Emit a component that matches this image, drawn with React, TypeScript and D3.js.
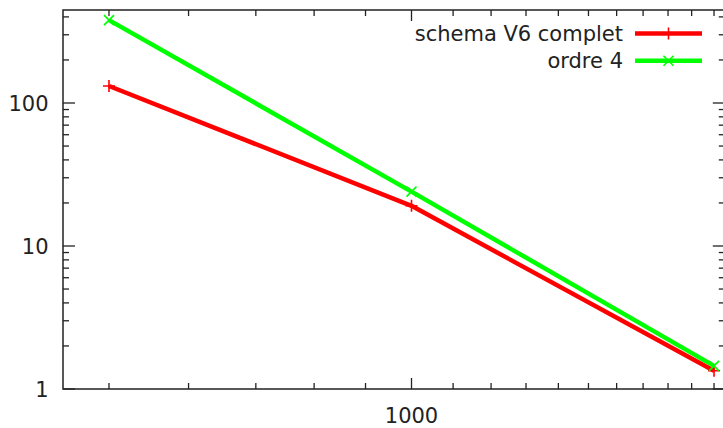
import React from "react";
import * as d3 from "d3";

const xValues = [500, 1000, 2000];
const seriesNames = ["schema V6 complet", "ordre 4"];
const redValues = [131.5, 19.1, 1.34];
const greenValues = [380, 24.0, 1.45];
const xTickLabels = [1000];
const yTickLabels = [1, 10, 100];

const W = 723;
const H = 428;
const left = 63;
const right = 724.8;
const top = 10;
const bottom = 389;

export default function App() {
  const x = d3.scaleLog().domain([450, 2050]).range([left, right]);
  const y = d3.scaleLog().domain([1, 447]).range([bottom, top]);

  const line = d3
    .line<number>()
    .x((_, i) => x(xValues[i]))
    .y((d) => y(d));

  const xMinor: number[] = [];
  for (let v = 500; v <= 2000; v += 100) if (v !== 1000) xMinor.push(v);
  const yMinor: number[] = [];
  [1, 10, 100].forEach((dec) => {
    for (let k = 2; k <= 9; k++) {
      const v = dec * k;
      if (v <= 447) yMinor.push(v);
    }
  });

  const axisColor = "#222";
  const font = "DejaVu Sans, sans-serif";
  const series = [
    { name: seriesNames[0], values: redValues, color: "#ff0000", marker: "plus" },
    { name: seriesNames[1], values: greenValues, color: "#00ff00", marker: "cross" },
  ];

  const marker = (type: string, cx: number, cy: number, color: string, key: string) => {
    const s = 6;
    if (type === "plus")
      return (
        <path key={key} d={`M${cx - s},${cy}H${cx + s}M${cx},${cy - s}V${cy + s}`} stroke={color} strokeWidth={1.6} fill="none" />
      );
    const t = 5;
    return (
      <path key={key} d={`M${cx - t},${cy - t}L${cx + t},${cy + t}M${cx - t},${cy + t}L${cx + t},${cy - t}`} stroke={color} strokeWidth={1.6} fill="none" />
    );
  };

  return (
    <svg width={W} height={H} style={{ position: "absolute", left: 0, top: 0 }} fontFamily={font}>
      <rect x={0} y={0} width={W} height={H} fill="#fff" />
      {/* ticks */}
      <g stroke={axisColor} strokeWidth={1.3}>
        {xMinor.map((v) => (
          <g key={"xm" + v}>
            <line x1={x(v)} x2={x(v)} y1={bottom} y2={bottom - 6} />
            <line x1={x(v)} x2={x(v)} y1={top} y2={top + 6} />
          </g>
        ))}
        {xTickLabels.map((v) => (
          <g key={"xM" + v}>
            <line x1={x(v)} x2={x(v)} y1={bottom} y2={bottom - 11} />
            <line x1={x(v)} x2={x(v)} y1={top} y2={top + 11} />
          </g>
        ))}
        {yMinor.map((v) => (
          <g key={"ym" + v}>
            <line x1={left} x2={left + 6} y1={y(v)} y2={y(v)} />
            <line x1={right} x2={right - 6} y1={y(v)} y2={y(v)} />
          </g>
        ))}
        {yTickLabels.map((v) => (
          <g key={"yM" + v}>
            <line x1={left} x2={left + 12} y1={y(v)} y2={y(v)} />
            <line x1={right} x2={right - 12} y1={y(v)} y2={y(v)} />
          </g>
        ))}
      </g>
      {/* frame */}
      <path d={`M${left},${top}H${right}V${bottom}H${left}Z`} fill="none" stroke={axisColor} strokeWidth={1.5} />
      {/* tick labels */}
      <g fill="#222" fontSize={21}>
        {yTickLabels.map((v) => (
          <text key={"yl" + v} x={48.5} y={y(v)} dy="0.36em" textAnchor="end">
            {String(v)}
          </text>
        ))}
        {xTickLabels.map((v) => (
          <text key={"xl" + v} x={x(v)} y={422.5} textAnchor="middle">
            {String(v)}
          </text>
        ))}
      </g>
      {/* series */}
      {series.map((s) => (
        <g key={s.name}>
          <path d={line(s.values) || ""} fill="none" stroke={s.color} strokeWidth={4.5} strokeLinejoin="round" />
          {s.values.map((v, i) => marker(s.marker, x(xValues[i]), y(v), s.color, s.name + i))}
        </g>
      ))}
      {/* legend */}
      {series.map((s, si) => {
        const ly = 33.5 + si * 27.3;
        return (
          <g key={"lg" + si}>
            <text x={623} y={ly} dy="0.36em" textAnchor="end" fontSize={21} fill="#222">
              {s.name}
            </text>
            <line x1={635} x2={702} y1={ly} y2={ly} stroke={s.color} strokeWidth={4.5} />
            {marker(s.marker, 668.5, ly, s.color, "lm" + si)}
          </g>
        );
      })}
    </svg>
  );
}
